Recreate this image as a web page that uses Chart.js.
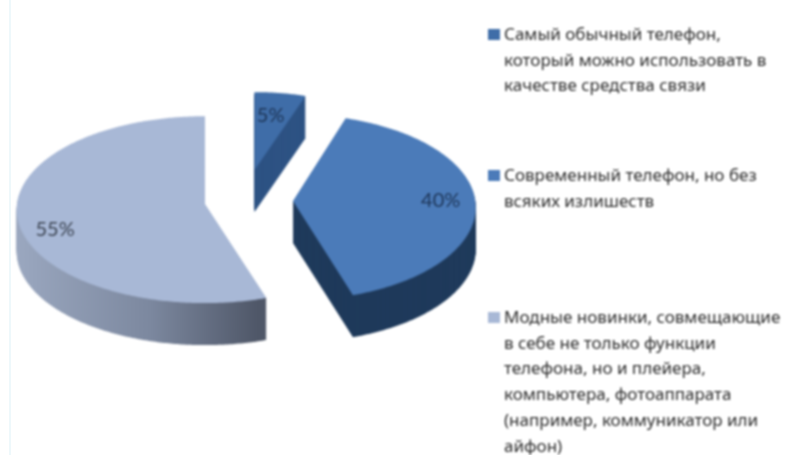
<!DOCTYPE html>
<html lang="ru">
<head>
<meta charset="utf-8">
<style>
html,body{margin:0;padding:0;background:#fff;}
#wrap{position:relative;width:787px;height:455px;overflow:hidden;}
#strip{position:absolute;left:9px;top:0;width:2px;height:455px;background:#eef8fb;}
canvas{position:absolute;left:0;top:0;filter:blur(0.8px);}
</style>
<script src="https://cdn.jsdelivr.net/npm/chart.js@4"></script>
</head>
<body>
<div id="wrap"><div id="strip"></div><canvas id="c" width="787" height="455"></canvas></div>
<script>
const legendLines = [
  ["Самый обычный телефон,", "который можно использовать в", "качестве средства связи"],
  ["Современный телефон, но без", "всяких излишеств"],
  ["Модные новинки, совмещающие", "в себе не только функции", "телефона, но и плейера,", "компьютера, фотоаппарата", "(например, коммуникатор или", "айфон)"]
];
const values = [5, 40, 55];
const valueLabels = ["5%", "40%", "55%"];

// styling
const topColors = ["#3f6da8", "#4b7bb9", "#a8b8d6"];
const explode = [67, 49, 39.5];
const radiusScale = [0.88, 0.97, 1];
const squash = [0.47, 0.51, 0.497];
const perspective = [0, 0.068, 0.06];
const depth = 42;
const labelAngle = [8, 90, 251];
const labelRadius = [0.7, 0.81, 0.83];
const labelColors = ["#1d3557", "#1d3557", "#3c4452"];
const legendBlockY = [35, 176, 318];
const legendLineH = 25.8;

function sideFill(ctx, i) {
  if (i === 0) return "#2d5283";
  if (i === 1) return "#1f3a5b";
  const g = ctx.createLinearGradient(18, 0, 258, 0);
  g.addColorStop(0, "#9aa7bf");
  g.addColorStop(0.55, "#7c889f");
  g.addColorStop(1, "#4f5768");
  return g;
}

const pie3d = {
  id: "pie3d",
  afterDatasetsUpdate(chart) {
    chart.getDatasetMeta(0).data.forEach((el, i) => {
      el.outerRadius = chart.data.datasets[0].radius * radiusScale[i];
    });
  },
  beforeDatasetDraw(chart) {
    const ctx = chart.ctx;
    chart.getDatasetMeta(0).data.forEach((el, i) => {
      const mid = (el.startAngle + el.endAngle) / 2;
      const off = el.options.offset;
      const ax = el.x + Math.cos(mid) * off;
      const ay = el.y + Math.sin(mid) * off * squash[i];
      // project a polar point of the arc element onto the tilted disc
      const project = (angle, rad) => {
        const ux = Math.cos(angle), uy = Math.sin(angle);
        const s = 1 + perspective[i] * uy * rad / el.outerRadius;
        return [ax + ux * rad * s, ay + uy * rad * squash[i] * s];
      };
      const wedge = (d, style) => {
        ctx.fillStyle = style;
        ctx.beginPath();
        ctx.moveTo(ax, ay + d);
        const steps = Math.ceil((el.endAngle - el.startAngle) * 90);
        for (let k = 0; k <= steps; k++) {
          const p = project(el.startAngle + (el.endAngle - el.startAngle) * k / steps, el.outerRadius);
          ctx.lineTo(p[0], p[1] + d);
        }
        ctx.closePath();
        ctx.fill();
      };
      const side = sideFill(ctx, i);
      for (let d = depth; d >= 1; d--) wedge(d, side);
      wedge(0, el.options.backgroundColor);

      // value label
      const a = (labelAngle[i] - 90) * Math.PI / 180;
      const lp = project(a, el.outerRadius * labelRadius[i]);
      ctx.save();
      ctx.font = "20px Lato";
      ctx.fillStyle = labelColors[i];
      ctx.textAlign = "center";
      ctx.textBaseline = "middle";
      ctx.fillText(valueLabels[i], lp[0], lp[1]);
      ctx.restore();
    });
    return false;
  },
  afterDraw(chart) {
    const ctx = chart.ctx;
    ctx.save();
    ctx.textBaseline = "middle";
    ctx.textAlign = "left";
    ctx.font = "17px 'Noto Sans'";
    legendLines.forEach((lines, i) => {
      ctx.fillStyle = topColors[i];
      ctx.fillRect(488, legendBlockY[i] - 6, 12, 11);
      ctx.fillStyle = "#2b2b2b";
      lines.forEach((t, j) => ctx.fillText(t, 504, legendBlockY[i] + j * legendLineH));
    });
    ctx.restore();
  }
};

new Chart(document.getElementById("c"), {
  type: "pie",
  data: {
    labels: legendLines.map(l => l.join(" ")),
    datasets: [{
      data: values,
      backgroundColor: topColors,
      borderWidth: 0,
      offset: explode,
      radius: 188
    }]
  },
  options: {
    responsive: false,
    animation: false,
    events: [],
    layout: { padding: { left: 0, right: 299, top: 0, bottom: 53 } },
    plugins: { legend: { display: false }, tooltip: { enabled: false } }
  },
  plugins: [pie3d]
});
</script>
</body>
</html>
